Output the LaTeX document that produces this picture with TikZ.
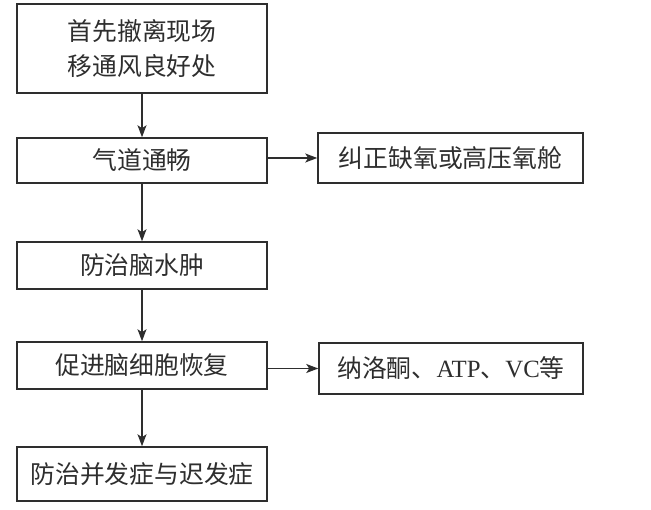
\documentclass[tikz,border=0pt]{standalone}
\usepackage{fontspec}
\setmainfont{Liberation Serif}
\newfontfamily\cjk{Noto Sans CJK SC}
\usetikzlibrary{arrows.meta}
\definecolor{ink}{HTML}{2E2E2E}
\tikzset{
  box/.style={draw=ink, line width=1.5pt, inner sep=0pt, text=ink,
    font=\fontsize{24.8}{35}\selectfont\cjk, align=center},
  arr/.style={draw=ink, line width=1.3pt, -{Stealth[length=12pt,width=9pt,inset=3pt]}}
}
\begin{document}
\begin{tikzpicture}[x=1pt,y=-1pt]
\useasboundingbox (0,0) rectangle (651,510);
\node[box, minimum width=250pt, minimum height=89pt] (b1) at (142,48.5) {首先撤离现场\\移通风良好处};
\node[box, minimum width=250pt, minimum height=45pt] (b2) at (142,160.5) {气道通畅};
\node[box, minimum width=265pt, minimum height=50pt] (b3) at (450.5,158) {纠正缺氧或高压氧舱};
\node[box, minimum width=250pt, minimum height=47pt] (b4) at (142,265.5) {防治脑水肿};
\node[box, minimum width=250pt, minimum height=47pt] (b5) at (142,365.5) {促进脑细胞恢复};
\node[box, minimum width=264pt, minimum height=51pt] (b6) at (451,368.5) {纳洛酮、{\rmfamily ATP}、{\rmfamily VC}等};
\node[box, minimum width=250pt, minimum height=54pt] (b7) at (142,474) {防治并发症与迟发症};
\draw[arr] (b1) -- (b2);
\draw[arr] (b2) -- (b4);
\draw[arr] (b4) -- (b5);
\draw[arr] (b5) -- (b7);
\draw[arr] (b2.east |- b3.west) -- (b3.west);
\draw[arr] (b5.east |- b6.west) -- (b6.west);
\end{tikzpicture}
\end{document}
